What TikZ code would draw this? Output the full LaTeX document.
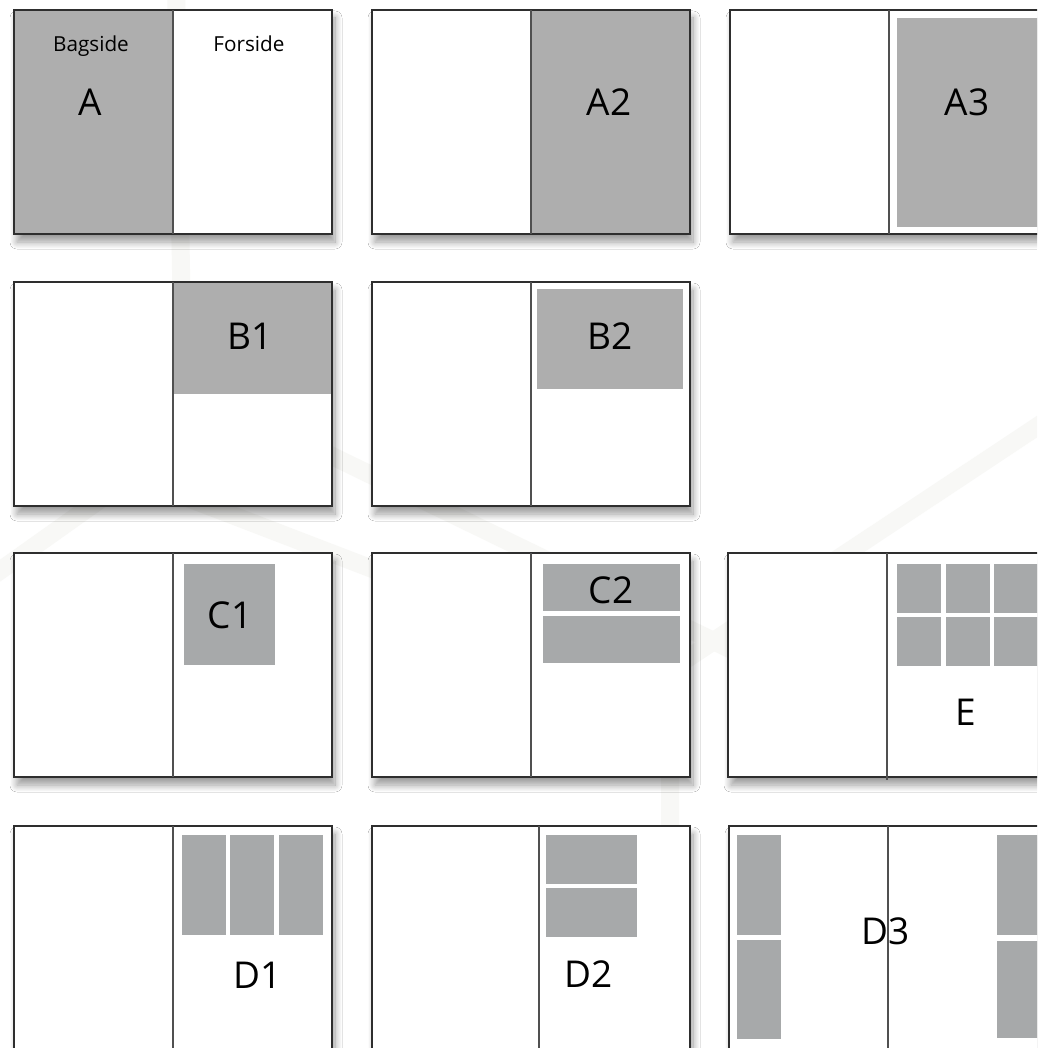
\documentclass[tikz,border=0pt]{standalone}
\usepackage{fontspec}
\setmainfont{Open Sans}
\usetikzlibrary{positioning,shadows.blur}

\definecolor{blockgray}{HTML}{AEAEAE}
\definecolor{photogray}{HTML}{A7A9AA}
\definecolor{edgegray}{HTML}{2E2E2E}
\definecolor{foldgray}{HTML}{505050}
\definecolor{wmgray}{HTML}{F8F8F6}

\begin{document}
\begin{tikzpicture}[x=1pt, y=-1pt,
    spread/.style={fill=white, minimum width=318pt, minimum height=224pt,
                   inner sep=0pt, outer sep=0pt, anchor=north west,
                   blur shadow={shadow xshift=3pt, shadow yshift=-8pt,
                                shadow blur radius=7pt, shadow blur steps=12,
                                shadow opacity=40}},
    pageedge/.style={draw=edgegray, line width=1.3pt},
    foldline/.style={draw=foldgray, line width=1.1pt},
    block/.style={fill=blockgray},
    photo/.style={fill=photogray},
    biglabel/.style={font=\fontsize{37}{40}\selectfont, anchor=base, inner sep=0pt},
    sidelabel/.style={font=\fontsize{20.7}{24}\selectfont, anchor=base, inner sep=0pt},
    watermark/.style={draw=wmgray, line width=18pt},
  ]

  \useasboundingbox (0,0) rectangle (1037,1048);
  \clip (0,0) rectangle (1037,1048);
  \fill[white] (0,0) rectangle (1037,1048);

  % faint background strokes
  \draw[watermark] (176,-15) -- (184,440);
  \draw[watermark] (-30,592) -- (184,440);
  \draw[watermark] (120,472) -- (560,641);
  \draw[watermark] (200,392) -- (800,683);
  \draw[watermark] (1050,418) -- (670,670) -- (670,1060);

  % === Row 1: A ===
  \node[spread] (sA) at (14,10) {};
  \node[spread, right=40pt of sA] (sA2) {};
  \node[spread, right=40pt of sA2] (sA3) {};

  % === Row 2: B ===
  \node[spread, below=48pt of sA] (sB1) {};
  \node[spread, right=40pt of sB1] (sB2) {};

  % === Row 3: C and E ===
  \node[spread, below=47pt of sB1] (sC1) {};
  \node[spread, right=40pt of sC1] (sC2) {};
  \node[spread, right=38pt of sC2] (sE) {};

  % === Row 4: D ===
  \node[spread, below=49pt of sC1] (sD1) {};
  \node[spread, right=40pt of sD1] (sD2) {};
  \node[spread, right=39pt of sD2] (sD3) {};

  % grey areas
  \fill[block] (sA.north west) rectangle (sA.south);
  \fill[block] (sA2.north) rectangle (sA2.south east);
  \fill[block] (897,18) rectangle (1045,227);
  \fill[block] (sB1.north) rectangle (sB1.east);
  \fill[block] (537,289) rectangle (683,389);

  \fill[photo] (184,564) rectangle (275,665);
  \fill[photo] (543,564) rectangle (680,611);
  \fill[photo] (543,616) rectangle (680,663);
  \foreach \px in {897,946,994} {
    \fill[photo] (\px,564) rectangle ++(44,49);
    \fill[photo] (\px,617) rectangle ++(44,49);
  }
  \foreach \px in {182,230,279}
    \fill[photo] (\px,835) rectangle ++(44,100);
  \fill[photo] (546,835) rectangle (637,884);
  \fill[photo] (546,888) rectangle (637,937);
  \fill[photo] (737,835) rectangle (781,935);
  \fill[photo] (737,940) rectangle (781,1039);
  \fill[photo] (997,835) rectangle (1045,935);
  \fill[photo] (997,941) rectangle (1045,1038);

  % outlines and spines
  \foreach \s in {sA,sA2,sA3,sB1,sB2,sC1,sC2,sD1,sD3} {
    \draw[pageedge] (\s.north west) rectangle (\s.south east);
    \draw[foldline] (\s.north) -- (\s.south);
  }
  \draw[pageedge] (sE.north west) rectangle (sE.south east);
  \draw[foldline] (sE.north) -- ([yshift=-3pt]sE.south);
  \draw[pageedge] (sD2.north west) rectangle (sD2.south east);
  \draw[foldline] ([xshift=8pt]sD2.north) -- ([xshift=8pt]sD2.south);

  % labels
  \node[sidelabel] (tBag) at (91,52) {Bagside};
  \node[sidelabel] (tFor) at (249,52) {Forside};
  \node[biglabel] (tA) at (90,116) {A};
  \node[biglabel] (tA2) at (609,116) {A2};
  \node[biglabel] (tA3) at (967,116) {A3};
  \node[biglabel] (tB1) at (250,349) {B1};
  \node[biglabel] (tB2) at (610,349) {B2};
  \node[biglabel] (tC1) at (230,628) {C1};
  \node[biglabel] (tC2) at (611,603) {C2};
  \node[biglabel] (tE) at (966,725) {E};
  \node[biglabel] (tD1) at (258,988) {D1};
  \node[biglabel] (tD2) at (589,987) {D2};
  \node[biglabel] (tD3) at (886,944) {D3};

\end{tikzpicture}
\end{document}
